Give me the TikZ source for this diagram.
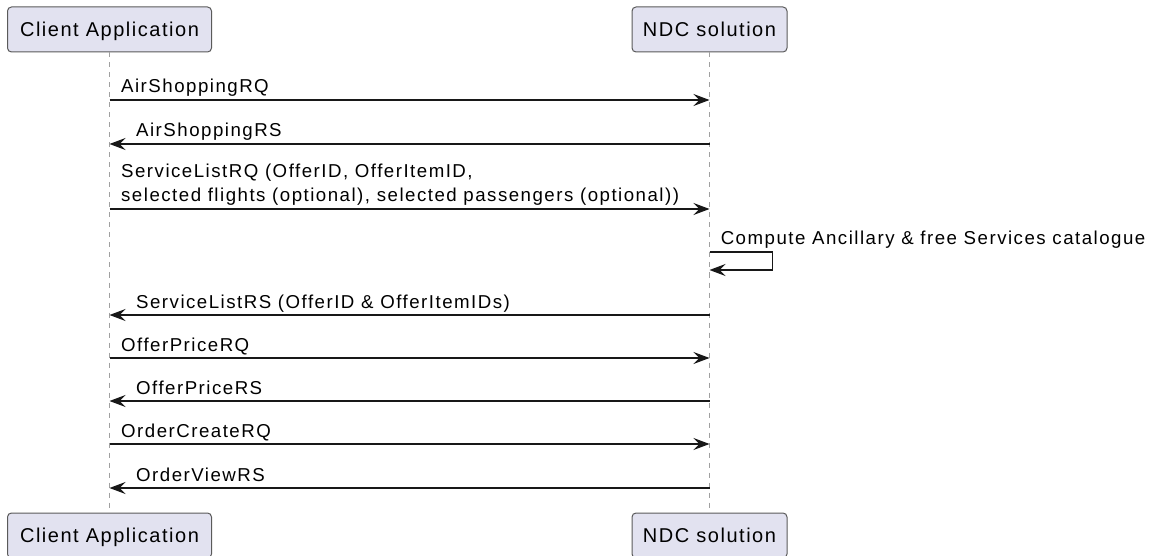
\documentclass[tikz,border=0pt]{standalone}
\usepackage{fontspec}
\setmainfont{Liberation Sans}
\newfontfamily\msgfont[LetterSpace=8]{Liberation Sans}
\newfontfamily\partfont[LetterSpace=7.6]{Liberation Sans}
\usetikzlibrary{arrows.meta}
\usetikzlibrary{positioning}
\usepackage{xcolor}
\definecolor{partfill}{HTML}{E2E2F0}
\definecolor{partline}{HTML}{5A5A5A}
\definecolor{lifegrey}{HTML}{A0A0A0}
\definecolor{msgline}{HTML}{181818}

\tikzset{
  part/.style={draw=partline, fill=partfill, line width=0.75pt, rounded corners=3pt,
    minimum height=33.75pt, inner xsep=0pt, text height=10.7pt, text depth=0pt,
    font=\partfont\fontsize{15}{17}\selectfont},
  life/.style={draw=lifegrey, line width=0.75pt, dash pattern=on 3.75pt off 3.75pt},
  msg/.style={draw=msgline, line width=1pt, -{Stealth[length=12pt,width=9pt,inset=4.5pt]}},
  lbl/.style={font=\msgfont\fontsize{14}{18}\selectfont, inner sep=0pt, align=left, anchor=base west},
  lblR/.style={lbl, xshift=8.25pt, yshift=5.25pt},
  lblL/.style={lbl, xshift=19.5pt, yshift=5.25pt}
}

\begin{document}
\begin{tikzpicture}[x=0.75pt, y=-0.75pt]
\useasboundingbox (0,0) rectangle (1161,556);
% participants
\node[part, minimum width=153pt] (ca) at (109.5,29.5) {Client Application};
\node[part, minimum width=116.25pt] (ndc) at (709.5,29.5) {NDC solution};
\node[part, minimum width=153pt] (caB) at (109.5,535.5) {Client Application};
\node[part, minimum width=116.25pt] (ndcB) at (709.5,535.5) {NDC solution};
\draw[life] (ca.south) -- (caB.north);
\draw[life] (ndc.south) -- (ndcB.north);
% message rows
\foreach \n/\y in {1/100,2/144,3/209,4/252,5/315,6/358,7/401,8/444,9/488}{
  \coordinate (a\n) at (ca.south |- 0,\y);
  \coordinate (b\n) at (ndc.south |- 0,\y);
}
\coordinate (b4e) at (ndc.south |- 0,270);
\draw[msg] (a1) -- (b1) node[lblR, at start] {AirShoppingRQ};
\draw[msg] (b2) -- (a2) node[lblL, at end] {AirShoppingRS};
\draw[msg] (a3) -- (b3) node[lblR, at start] {ServiceListRQ (OfferID, OfferItemID,\\selected flights (optional), selected passengers (optional))};
\draw[msg] (b4) -- ++(63,0) -- ++(0,18) -- (b4e);
\node[lbl, xshift=8.25pt, yshift=5.6pt] (comp) at (b4) {Compute Ancillary \& free Services catalogue};
\draw[msg] (b5) -- (a5) node[lblL, at end] {ServiceListRS (OfferID \& OfferItemIDs)};
\draw[msg] (a6) -- (b6) node[lblR, at start] {OfferPriceRQ};
\draw[msg] (b7) -- (a7) node[lblL, at end] {OfferPriceRS};
\draw[msg] (a8) -- (b8) node[lblR, at start] {OrderCreateRQ};
\draw[msg] (b9) -- (a9) node[lblL, at end] {OrderViewRS};
\end{tikzpicture}
\end{document}
